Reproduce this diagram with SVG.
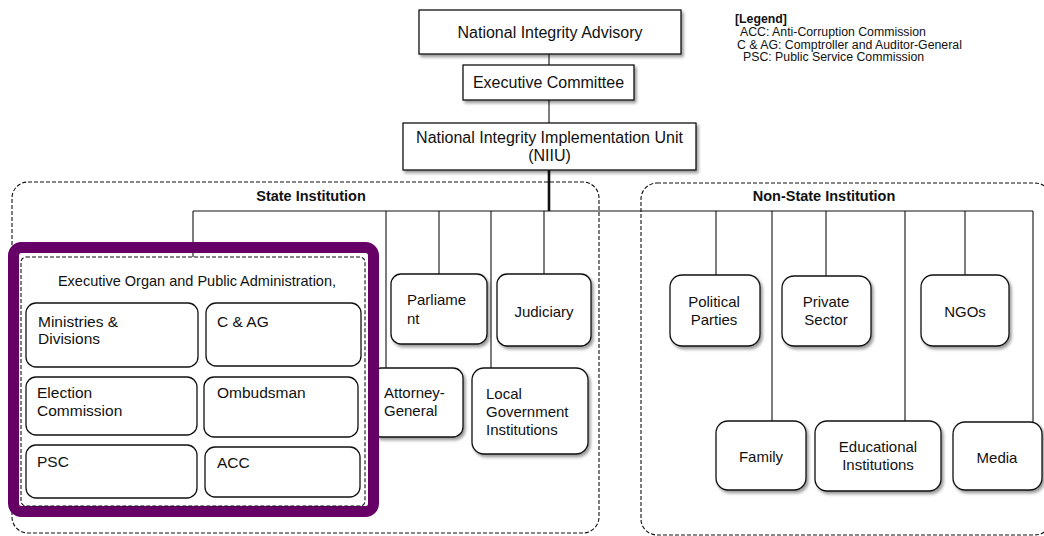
<svg xmlns="http://www.w3.org/2000/svg" width="1044" height="536" viewBox="0 0 1044 536">
  <defs>
    <filter id="shadow" x="-10%" y="-10%" width="130%" height="130%">
      <feDropShadow dx="2" dy="2.5" stdDeviation="1.5" flood-color="#000" flood-opacity="0.4"/>
    </filter>
    <style>
      text { font-family: "Liberation Sans", Arial, sans-serif; fill: #111; }
      .box { fill: #fff; stroke: #111; stroke-width: 1.3; }
      .top { fill: #fff; stroke: #111; stroke-width: 1.3; filter: url(#shadow); }
      .node { fill: #fff; stroke: #111; stroke-width: 1.3; filter: url(#shadow); }
      .zone { fill: none; stroke: #111; stroke-width: 1.1; stroke-dasharray: 4 2; }
      .wire { stroke: #111; stroke-width: 1.1; fill: none; }
      .t16 { font-size: 16px; }
      .t15 { font-size: 15px; }
      .t155 { font-size: 15.5px; }
      .mid { text-anchor: middle; }
      .head { font-size: 14.5px; font-weight: bold; text-anchor: middle; }
      .legend { font-size: 12.3px; }
    </style>
  </defs>
  <rect width="1044" height="536" fill="#fff"/>

  <!-- institution zones -->
  <g id="zones">
    <rect id="state-zone" class="zone" x="12" y="182" width="587" height="351" rx="16"/>
    <text class="head" x="311" y="201">State Institution</text>
    <rect id="nonstate-zone" class="zone" x="641" y="183" width="410" height="352" rx="16"/>
    <text class="head" x="824" y="201">Non-State Institution</text>
  </g>

  <!-- legend -->
  <g id="legend">
    <text class="legend" x="735" y="23" font-weight="bold">[Legend]</text>
    <text class="legend" x="740" y="36">ACC: Anti-Corruption Commission</text>
    <text class="legend" x="737" y="48.5">C &amp; AG: Comptroller and Auditor-General</text>
    <text class="legend" x="743" y="61">PSC: Public Service Commission</text>
  </g>

  <!-- connectors -->
  <g id="connectors" class="wire">
    <line x1="549" y1="54" x2="549" y2="65"/>
    <line x1="549" y1="100" x2="549" y2="123"/>
    <line x1="549" y1="170" x2="549" y2="211" stroke-width="2.6"/>
    <line x1="193" y1="211" x2="1033" y2="211"/>
    <line x1="193" y1="211" x2="193" y2="257"/>
    <line x1="386" y1="211" x2="386" y2="368"/>
    <line x1="439" y1="211" x2="439" y2="274"/>
    <line x1="491" y1="211" x2="491" y2="368"/>
    <line x1="544" y1="211" x2="544" y2="274"/>
    <line x1="716" y1="211" x2="716" y2="275"/>
    <line x1="772" y1="211" x2="772" y2="421"/>
    <line x1="826" y1="211" x2="826" y2="276"/>
    <line x1="905" y1="211" x2="905" y2="421"/>
    <line x1="965" y1="211" x2="965" y2="275"/>
    <line x1="1033" y1="211" x2="1033" y2="422"/>
  </g>

  <!-- top of the hierarchy -->
  <g id="advisory">
    <rect class="top" x="419" y="10" width="262" height="44"/>
    <text class="t16 mid" x="550" y="38">National Integrity Advisory</text>
  </g>
  <g id="executive-committee">
    <rect class="top" x="463" y="65" width="171" height="35"/>
    <text class="t16 mid" x="548.5" y="88">Executive Committee</text>
  </g>
  <g id="niiu">
    <rect class="top" x="403" y="123" width="293" height="47"/>
    <text class="t16 mid" x="549.5" y="143">National Integrity Implementation Unit</text>
    <text class="t16 mid" x="549.5" y="161">(NIIU)</text>
  </g>

  <!-- state institutions -->
  <g id="attorney-general">
    <rect class="node" x="371" y="368" width="92" height="69" rx="10"/>
    <text class="t15" x="384" y="398">Attorney-</text>
    <text class="t15" x="384" y="416">General</text>
  </g>
  <g id="parliament">
    <rect class="node" x="391" y="274" width="96" height="70" rx="10"/>
    <text class="t15" x="407" y="305">Parliame</text>
    <text class="t15" x="407" y="324">nt</text>
  </g>
  <g id="judiciary">
    <rect class="node" x="497" y="274" width="94" height="72" rx="10"/>
    <text class="t15 mid" x="544" y="317">Judiciary</text>
  </g>
  <g id="local-government">
    <rect class="node" x="472" y="368" width="116" height="86" rx="12"/>
    <text class="t15" x="486" y="399">Local</text>
    <text class="t15" x="486" y="417">Government</text>
    <text class="t15" x="486" y="435">Institutions</text>
  </g>

  <!-- executive organ and public administration -->
  <g id="executive-organ">
    <rect x="13.5" y="247.5" width="360" height="264" rx="8" fill="none" stroke="#660066" stroke-width="11"/>
    <rect class="zone" x="21" y="257" width="344" height="249" rx="5" stroke-width="1"/>
    <text class="mid" x="197" y="286" font-size="14.5px">Executive Organ and Public Administration,</text>
  </g>
  <g id="ministries">
    <rect class="box" x="26" y="303" width="172" height="64" rx="10"/>
    <text class="t155" x="38" y="327">Ministries &amp;</text>
    <text class="t155" x="38" y="344">Divisions</text>
  </g>
  <g id="cag">
    <rect class="box" x="206" y="303" width="155" height="63" rx="10"/>
    <text class="t155" x="217" y="327">C &amp; AG</text>
  </g>
  <g id="election-commission">
    <rect class="box" x="26" y="377" width="171" height="58" rx="10"/>
    <text class="t155" x="37" y="398">Election</text>
    <text class="t155" x="37" y="416">Commission</text>
  </g>
  <g id="ombudsman">
    <rect class="box" x="204" y="377" width="154" height="60" rx="10"/>
    <text class="t155" x="217" y="398">Ombudsman</text>
  </g>
  <g id="psc">
    <rect class="box" x="26" y="445" width="171" height="53" rx="10"/>
    <text class="t155" x="37" y="467">PSC</text>
  </g>
  <g id="acc">
    <rect class="box" x="205" y="447" width="155" height="50" rx="10"/>
    <text class="t155" x="217" y="468">ACC</text>
  </g>

  <!-- non-state institutions -->
  <g id="political-parties">
    <rect class="node" x="670" y="275" width="90" height="71" rx="12"/>
    <text class="t15 mid" x="714" y="307">Political</text>
    <text class="t15 mid" x="714" y="325">Parties</text>
  </g>
  <g id="private-sector">
    <rect class="node" x="782" y="276" width="89" height="70" rx="12"/>
    <text class="t15 mid" x="826" y="307">Private</text>
    <text class="t15 mid" x="826" y="325">Sector</text>
  </g>
  <g id="ngos">
    <rect class="node" x="921" y="275" width="88" height="71" rx="12"/>
    <text class="t15 mid" x="965" y="317">NGOs</text>
  </g>
  <g id="family">
    <rect class="node" x="716" y="421" width="90" height="69" rx="12"/>
    <text class="t15 mid" x="761" y="462">Family</text>
  </g>
  <g id="educational-institutions">
    <rect class="node" x="815" y="421" width="126" height="70" rx="12"/>
    <text class="t15 mid" x="878" y="452">Educational</text>
    <text class="t15 mid" x="878" y="470">Institutions</text>
  </g>
  <g id="media">
    <rect class="node" x="953" y="422" width="89" height="68" rx="12"/>
    <text class="t15 mid" x="997" y="463">Media</text>
  </g>
</svg>
